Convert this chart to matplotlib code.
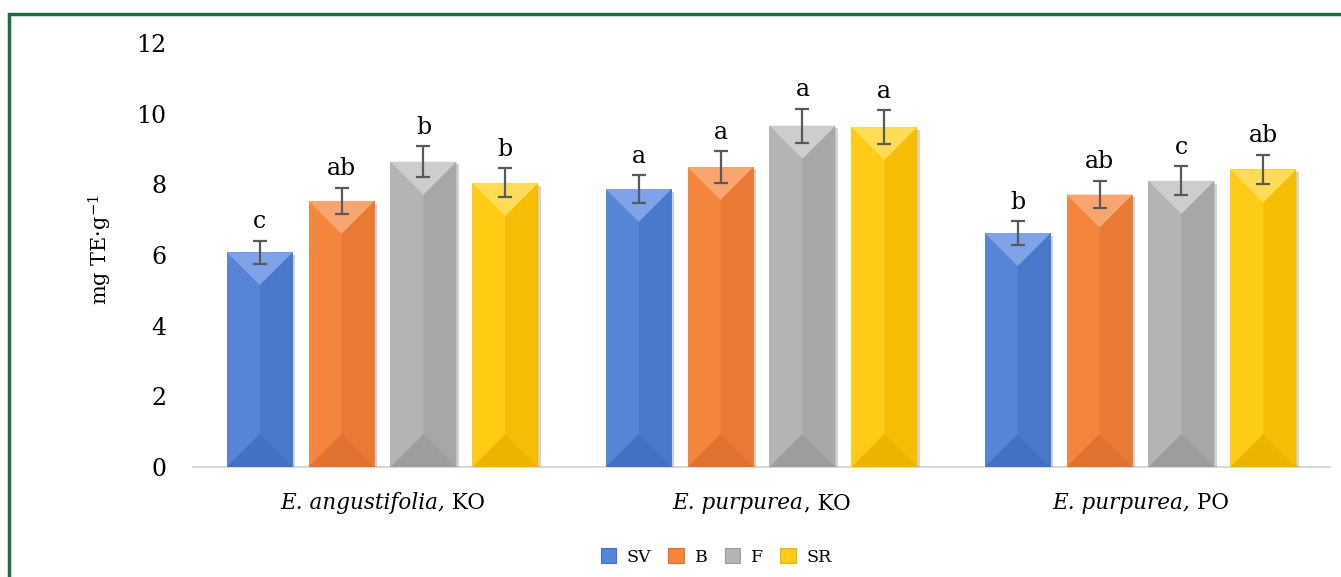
import matplotlib.pyplot as plt
from matplotlib.patches import Polygon, Rectangle, Patch
from matplotlib.offsetbox import TextArea, HPacker, AnnotationBbox
import matplotlib.patheffects as pe
import numpy as np

# category names: italic species part + upright site part
cat_italic = ["E. angustifolia,", "E. purpurea", "E. purpurea,"]
cat_roman = [" KO", ", KO", " PO"]
series = ["SV", "B", "F", "SR"]

sv = [6.08, 7.87, 6.62]
b = [7.53, 8.49, 7.71]
f = [8.64, 9.66, 8.10]
sr = [8.04, 9.62, 8.42]

sv_err = [0.33, 0.39, 0.34]
b_err = [0.38, 0.44, 0.39]
f_err = [0.44, 0.48, 0.41]
sr_err = [0.41, 0.48, 0.42]

sv_sig = ["c", "a", "b"]
b_sig = ["ab", "a", "ab"]
f_sig = ["b", "a", "c"]
sr_sig = ["b", "a", "ab"]

y_ticks = [0, 2, 4, 6, 8, 10, 12]

values = [sv, b, f, sr]
errors = [sv_err, b_err, f_err, sr_err]
letters = [sv_sig, b_sig, f_sig, sr_sig]

# base, top bevel, right half, bottom bevel
palette = [
    ("#5685d8", "#7ea3e8", "#4b78cb", "#4470c2"),
    ("#f5853d", "#f8a56f", "#e97a34", "#df722e"),
    ("#b4b4b4", "#cdcdcd", "#a7a7a7", "#9d9d9d"),
    ("#ffcb17", "#ffdc55", "#f5be05", "#ebb400"),
]

font = "DejaVu Serif"
plt.rcParams["font.family"] = font
plt.rcParams["mathtext.fontset"] = "custom"
plt.rcParams["mathtext.rm"] = font
plt.rcParams["mathtext.it"] = font + ":italic"

fig = plt.figure(figsize=(13.41, 5.77), dpi=100)
ax = fig.add_axes([193 / 1341, 1 - 467 / 577, 1137 / 1341, 424 / 577])
ax.set_xlim(-0.5, 2.5)
ax.set_ylim(0, 12)

x = np.arange(len(cat_italic))
pitch = 0.216
width = 0.174

# pixel scale, used to keep the bevel at 45 degrees
p0 = ax.transData.transform((0, 0))
p1 = ax.transData.transform((1, 1))
px_x = p1[0] - p0[0]
px_y = p1[1] - p0[1]

for i, (vals, errs, sigs, cols) in enumerate(zip(values, errors, letters, palette)):
    xs = x + (i - 1.5) * pitch
    bars = ax.bar(xs, vals, width=width, color=cols[0], zorder=2,
                  edgecolor="none",
                  path_effects=[pe.SimplePatchShadow(offset=(2, -2), alpha=0.22),
                                pe.Normal()])
    for bar in bars:
        x0 = bar.get_x()
        w = bar.get_width()
        h = bar.get_height()
        xc = x0 + w / 2
        d = (w / 2) * px_x / px_y
        top = Polygon([(x0, h), (x0 + w, h), (xc, h - d)], closed=True,
                      facecolor=cols[1], edgecolor="none", zorder=3)
        right = Polygon([(x0 + w, h), (xc, h - d), (xc, d), (x0 + w, 0)],
                        closed=True, facecolor=cols[2], edgecolor="none", zorder=3)
        bottom = Polygon([(x0, 0), (x0 + w, 0), (xc, d)], closed=True,
                         facecolor=cols[3], edgecolor="none", zorder=3)
        for p in (right, top, bottom):
            ax.add_patch(p)
    ax.errorbar(xs, vals, yerr=errs, fmt="none", ecolor="#595959",
                elinewidth=1.6, capsize=5, capthick=1.6, zorder=5)
    for xi, v, e, s in zip(xs, vals, errs, sigs):
        ax.annotate(s, (xi, v + e), xytext=(0, 9), textcoords="offset points",
                    ha="center", va="baseline", fontsize=17, color="black")

ax.set_xticks(x)
ax.set_xticklabels([])
for xi, it, rm in zip(x, cat_italic, cat_roman):
    box = HPacker(children=[TextArea(it, textprops=dict(fontsize=15.5, style="italic")),
                            TextArea(rm, textprops=dict(fontsize=15.5))],
                  pad=0, sep=0, align="baseline")
    ab = AnnotationBbox(box, (xi, 0), xycoords=("data", "axes fraction"),
                        xybox=(0, -18), boxcoords="offset points",
                        box_alignment=(0.5, 1), frameon=False,
                        annotation_clip=False)
    ax.add_artist(ab)

ax.set_yticks(y_ticks)
ax.set_yticklabels([str(t) for t in y_ticks], fontsize=17)
ax.tick_params(axis="both", length=0)
ax.tick_params(axis="y", pad=19)
for side in ("top", "right", "left"):
    ax.spines[side].set_visible(False)
ax.spines["bottom"].set_color("#d9d9d9")
ax.spines["bottom"].set_linewidth(1.5)
ax.spines["bottom"].set_zorder(1)

fig.text(100 / 1341, 1 - 250 / 577, r"mg TE·g$^{-1}$", rotation=90,
         ha="center", va="center", fontsize=15)

handles = [Patch(facecolor=c[0], edgecolor=c[3], linewidth=0.8) for c in palette]
fig.legend(handles, series, loc="center", bbox_to_anchor=(716 / 1341, 1 - 557 / 577),
           ncol=4, frameon=False, fontsize=12.5, handlelength=0.9, handleheight=0.9,
           handletextpad=0.6, columnspacing=1.0)

# green frame around the chart
fig.patches.append(Rectangle((9 / 1341, -0.1), 1.2, 1 - 14 / 577 + 0.1,
                             transform=fig.transFigure, fill=False,
                             edgecolor="#1f6b40", linewidth=2.5, clip_on=False))

plt.savefig("out.png", dpi=100)
